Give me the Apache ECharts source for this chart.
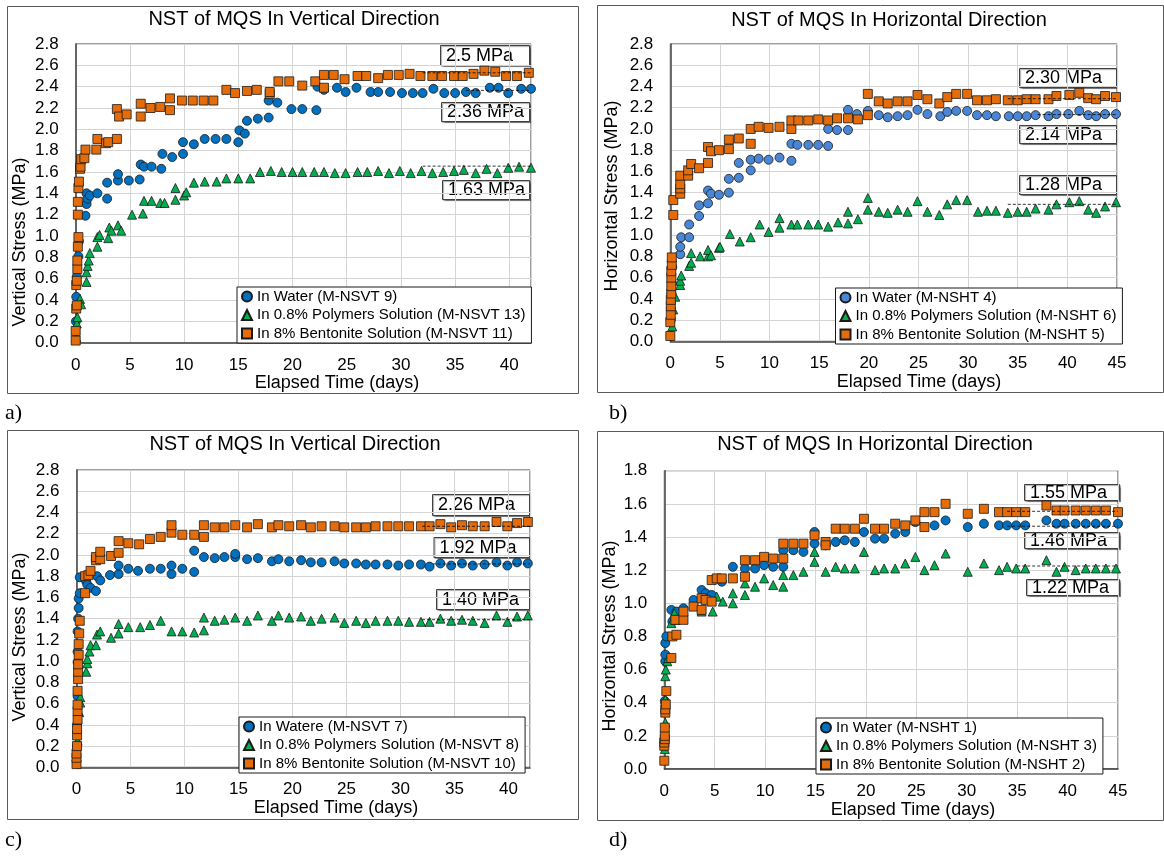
<!DOCTYPE html>
<html>
<head>
<meta charset="utf-8">
<script src="https://cdn.jsdelivr.net/npm/echarts@6/dist/echarts.min.js"></script>
<style>
  html, body { margin: 0; padding: 0; background: #fff; }
  #chart { width: 1164px; height: 857px; }
</style>
</head>
<body>
<div id="chart"></div>
<script>
// ---- data: [elapsed days, stress MPa] ----
const aWater = [[0.02,0.2],[0.05,0.43],[0.1,0.62],[0.25,0.81],[0.3,0.95],[0.9,1.19],[1.0,1.3],[1.0,1.4],[1.1,1.35],[1.3,1.38],[2.0,1.4],[2.9,1.5],[2.9,1.35],[3.9,1.52],[3.9,1.58],[4.9,1.52],[5.9,1.53],[6.0,1.67],[6.3,1.65],[7.0,1.65],[7.9,1.63],[8.0,1.77],[8.9,1.74],[9.9,1.77],[9.9,1.88],[10.9,1.86],[11.9,1.91],[12.9,1.91],[13.9,1.91],[15.0,1.88],[15.1,1.99],[15.6,1.96],[15.8,2.08],[16.8,2.10],[17.8,2.11],[17.8,2.27],[18.6,2.25],[19.9,2.19],[20.9,2.19],[22.2,2.18],[22.3,2.40],[22.9,2.37],[24.1,2.39],[24.9,2.35],[25.9,2.39],[27.2,2.35],[27.9,2.35],[29.0,2.35],[30.1,2.34],[31.1,2.34],[32.0,2.34],[33.0,2.38],[34.0,2.34],[35.0,2.34],[36.0,2.35],[36.9,2.34],[38.2,2.39],[39.0,2.39],[39.9,2.34],[41.1,2.38],[42.0,2.38]];
const aPoly = [[0.05,0.05],[0.1,0.18],[0.15,0.24],[0.3,0.38],[0.4,0.41],[0.5,0.36],[1.0,0.57],[1.0,0.66],[1.1,0.72],[1.2,0.77],[1.3,0.84],[2.0,0.90],[2.0,0.99],[2.2,1.01],[3.0,0.98],[3.1,1.08],[3.3,1.05],[3.9,1.10],[4.2,1.05],[5.2,1.20],[6.2,1.21],[6.3,1.33],[7.0,1.33],[7.8,1.31],[8.2,1.31],[9.2,1.34],[9.2,1.45],[10.0,1.38],[10.2,1.41],[10.9,1.50],[11.9,1.51],[13.0,1.51],[13.9,1.54],[15.0,1.54],[16.1,1.54],[17.0,1.60],[18.0,1.61],[19.0,1.60],[20.0,1.60],[20.9,1.60],[22.0,1.60],[22.9,1.60],[23.9,1.59],[24.9,1.59],[26.0,1.60],[26.9,1.60],[27.9,1.61],[28.9,1.59],[29.9,1.61],[30.9,1.59],[31.9,1.61],[32.9,1.59],[33.9,1.60],[34.9,1.61],[35.8,1.62],[36.9,1.59],[37.9,1.63],[38.9,1.59],[39.9,1.64],[40.9,1.65],[42.0,1.64]];
const aBent = [[0,0.02],[0,0.11],[0.05,0.32],[0.1,0.35],[0.05,0.54],[0.1,0.58],[0.15,0.69],[0.15,0.77],[0.2,0.9],[0.25,0.99],[0.2,1.2],[0.2,1.32],[0.25,1.45],[0.3,1.51],[0.4,1.63],[0.45,1.65],[0.5,1.72],[0.8,1.73],[0.9,1.81],[1.9,1.81],[2.0,1.91],[2.8,1.87],[3.0,1.88],[3.8,1.91],[3.8,2.19],[4.0,2.12],[4.7,2.14],[6.0,2.12],[6.0,2.24],[6.9,2.20],[7.8,2.21],[8.7,2.18],[8.7,2.29],[9.8,2.27],[10.8,2.27],[11.8,2.27],[12.7,2.27],[13.9,2.37],[14.7,2.34],[15.8,2.36],[16.7,2.37],[17.9,2.33],[17.9,2.35],[18.7,2.45],[19.7,2.45],[20.9,2.41],[22.1,2.45],[22.9,2.51],[22.9,2.39],[23.8,2.51],[24.8,2.47],[26.0,2.50],[26.8,2.50],[27.9,2.48],[28.8,2.51],[29.8,2.51],[30.8,2.52],[31.8,2.50],[32.9,2.50],[33.8,2.50],[34.9,2.50],[35.7,2.50],[36.7,2.52],[37.7,2.55],[38.7,2.54],[39.7,2.50],[40.7,2.50],[41.8,2.53]];

const bWater = [[0.05,0.2],[0.05,0.31],[0.1,0.38],[0.1,0.45],[0.15,0.55],[0.2,0.7],[1.0,0.82],[1.0,0.89],[1.1,0.98],[1.9,0.98],[1.9,1.10],[2.9,1.18],[2.9,1.28],[3.8,1.30],[3.8,1.42],[4.1,1.39],[4.9,1.38],[5.9,1.40],[5.9,1.53],[6.9,1.54],[6.9,1.68],[8.1,1.61],[8.1,1.71],[8.9,1.72],[9.9,1.71],[11.0,1.73],[12.2,1.70],[12.2,1.86],[12.8,1.85],[13.9,1.85],[14.9,1.85],[15.9,1.84],[15.9,2.0],[16.8,1.99],[17.9,1.99],[17.9,2.18],[18.8,2.14],[19.9,2.17],[21.0,2.13],[21.9,2.11],[22.9,2.12],[23.9,2.13],[24.9,2.18],[25.9,2.14],[27.2,2.12],[27.9,2.16],[28.8,2.17],[29.9,2.17],[30.9,2.13],[31.9,2.13],[32.8,2.12],[34.1,2.12],[35.0,2.12],[35.9,2.12],[36.8,2.13],[38.1,2.12],[38.9,2.14],[40.1,2.14],[41.2,2.17],[42.1,2.13],[42.9,2.12],[43.8,2.14],[44.9,2.14]];
const bPoly = [[0.2,0.14],[0.3,0.3],[0.5,0.42],[1.0,0.53],[1.0,0.57],[1.1,0.62],[1.9,0.71],[2.1,0.74],[2.1,0.83],[3.0,0.80],[3.8,0.80],[3.8,0.86],[4.1,0.81],[4.9,0.88],[5.0,0.89],[6.0,1.01],[7.0,0.94],[8.1,0.98],[9.0,1.10],[9.9,1.03],[11.0,1.07],[11.0,1.16],[12.2,1.10],[12.8,1.10],[13.9,1.10],[14.9,1.10],[15.9,1.08],[16.9,1.12],[17.9,1.11],[17.9,1.22],[18.9,1.15],[19.9,1.24],[19.9,1.35],[21.0,1.22],[21.9,1.21],[22.9,1.24],[23.9,1.22],[24.9,1.32],[25.9,1.22],[27.1,1.19],[27.9,1.29],[28.8,1.33],[29.9,1.33],[31.0,1.22],[31.9,1.23],[32.8,1.23],[34.0,1.21],[35.0,1.22],[35.9,1.22],[36.8,1.25],[38.1,1.24],[38.9,1.29],[40.2,1.31],[41.2,1.32],[42.1,1.24],[42.9,1.21],[43.8,1.27],[44.9,1.31]];
const bBent = [[0,0.05],[0,0.18],[0.05,0.25],[0.05,0.33],[0.05,0.39],[0.1,0.45],[0.1,0.52],[0.1,0.6],[0.1,0.66],[0.15,0.72],[0.15,0.79],[0.3,1.19],[0.3,1.33],[1.0,1.39],[1.0,1.44],[1.0,1.48],[1.0,1.56],[1.8,1.56],[1.8,1.61],[2.1,1.67],[2.9,1.63],[3.8,1.68],[3.8,1.83],[4.1,1.79],[4.9,1.80],[5.9,1.81],[5.9,1.90],[6.9,1.91],[8.1,1.86],[8.1,2.0],[8.9,2.02],[9.9,2.01],[11.0,2.02],[12.2,2.0],[12.2,2.08],[12.9,2.08],[13.9,2.08],[14.9,2.09],[15.9,2.08],[16.8,2.10],[17.9,2.10],[18.9,2.09],[19.9,2.13],[19.9,2.33],[21.0,2.26],[21.9,2.24],[22.9,2.26],[23.9,2.26],[24.9,2.32],[25.9,2.28],[27.1,2.24],[27.9,2.30],[28.8,2.33],[29.9,2.33],[30.9,2.27],[31.9,2.27],[32.8,2.28],[34.0,2.27],[35.0,2.27],[35.9,2.28],[36.8,2.28],[38.1,2.28],[38.9,2.31],[40.2,2.32],[41.2,2.34],[42.1,2.29],[42.9,2.28],[43.8,2.31],[44.9,2.30]];

const cWater = [[0.05,0.2],[0.05,0.4],[0.1,0.67],[0.1,0.99],[0.1,1.09],[0.1,1.28],[0.15,1.40],[0.2,1.50],[0.2,1.59],[0.3,1.64],[0.3,1.79],[0.9,1.75],[1.0,1.72],[1.3,1.69],[1.8,1.66],[1.9,1.80],[2.2,1.76],[3.1,1.81],[3.9,1.82],[3.9,1.90],[4.8,1.87],[5.7,1.85],[6.8,1.87],[7.8,1.87],[8.8,1.82],[8.8,1.90],[9.8,1.87],[10.9,1.84],[10.9,2.04],[11.8,1.98],[12.8,1.97],[13.7,1.98],[14.7,1.98],[14.7,2.01],[15.8,1.96],[16.8,1.97],[18.1,1.94],[18.7,1.96],[19.7,1.94],[20.8,1.95],[21.7,1.93],[22.7,1.93],[23.9,1.94],[24.8,1.92],[25.9,1.92],[26.8,1.91],[27.7,1.91],[28.8,1.91],[29.8,1.90],[30.8,1.91],[31.9,1.91],[32.7,1.89],[33.7,1.92],[34.7,1.90],[35.7,1.92],[36.7,1.90],[37.8,1.91],[38.9,1.93],[39.9,1.90],[40.8,1.93],[41.8,1.92]];
const cPoly = [[0.1,0.25],[0.25,0.52],[0.35,0.61],[0.35,0.66],[0.9,0.90],[1.0,0.98],[1.0,1.02],[1.2,1.09],[1.3,1.15],[1.8,1.15],[1.9,1.25],[2.2,1.28],[3.2,1.22],[3.9,1.26],[3.9,1.35],[4.8,1.32],[5.9,1.32],[6.8,1.34],[7.8,1.38],[8.8,1.28],[9.8,1.28],[10.9,1.27],[11.8,1.29],[11.8,1.41],[12.8,1.38],[13.7,1.39],[14.7,1.41],[15.8,1.38],[16.8,1.43],[18.1,1.38],[18.7,1.43],[19.7,1.41],[20.8,1.42],[21.7,1.38],[22.7,1.40],[23.9,1.41],[24.8,1.36],[25.9,1.38],[26.8,1.36],[27.7,1.38],[28.8,1.38],[29.8,1.38],[30.8,1.37],[31.9,1.37],[32.7,1.37],[33.7,1.40],[34.7,1.38],[35.7,1.39],[36.7,1.38],[37.8,1.36],[38.9,1.43],[39.9,1.37],[40.8,1.42],[41.8,1.43]];
const cBent = [[0,0.03],[0,0.09],[0,0.13],[0.05,0.2],[0.05,0.3],[0.05,0.36],[0.1,0.45],[0.1,0.53],[0.1,0.59],[0.1,0.72],[0.15,0.83],[0.15,0.90],[0.15,0.97],[0.2,1.06],[0.2,1.16],[0.25,1.26],[0.3,1.38],[0.8,1.64],[0.8,1.80],[1.1,1.81],[1.3,1.85],[1.8,1.95],[1.8,1.98],[2.2,1.96],[2.2,2.03],[3.2,1.99],[3.9,2.02],[3.9,2.13],[4.8,2.11],[5.8,2.10],[6.8,2.15],[7.8,2.17],[8.8,2.21],[8.8,2.28],[9.8,2.19],[10.9,2.19],[11.8,2.17],[11.8,2.28],[12.8,2.26],[13.7,2.26],[14.7,2.28],[15.8,2.26],[16.8,2.29],[18.1,2.26],[18.7,2.28],[19.7,2.27],[20.8,2.28],[21.7,2.26],[22.7,2.27],[23.9,2.27],[24.8,2.26],[25.9,2.26],[26.8,2.26],[27.7,2.27],[28.8,2.27],[29.8,2.27],[30.8,2.27],[31.9,2.27],[32.7,2.27],[33.7,2.29],[34.7,2.26],[35.7,2.28],[36.7,2.27],[37.8,2.27],[38.9,2.31],[39.9,2.27],[40.8,2.30],[41.8,2.31]];

const dWater = [[0.05,0.41],[0.1,0.65],[0.1,0.69],[0.1,0.76],[0.2,0.80],[0.7,0.96],[0.8,0.89],[1.2,0.95],[1.9,0.97],[2.9,1.02],[3.7,1.08],[4.1,1.06],[4.7,1.05],[5.7,1.13],[6.8,1.22],[8.0,1.21],[9.0,1.21],[9.9,1.23],[10.8,1.22],[11.8,1.22],[11.8,1.32],[12.8,1.32],[13.8,1.31],[14.9,1.36],[14.9,1.43],[16.0,1.35],[17.0,1.37],[17.9,1.38],[18.9,1.37],[19.8,1.43],[20.9,1.39],[21.8,1.39],[22.9,1.42],[23.9,1.43],[24.9,1.49],[26.8,1.47],[27.9,1.50],[30.1,1.46],[31.7,1.48],[33.2,1.47],[34.0,1.47],[34.9,1.47],[35.8,1.47],[37.9,1.50],[38.9,1.48],[39.7,1.48],[40.8,1.48],[41.8,1.48],[42.8,1.48],[43.8,1.48],[45.0,1.48]];
const dPoly = [[0.05,0.12],[0.1,0.28],[0.1,0.42],[0.1,0.56],[0.15,0.60],[0.3,0.65],[0.4,0.67],[0.7,0.88],[1.0,0.94],[1.1,0.90],[3.7,0.95],[4.8,0.95],[5.2,1.04],[5.8,1.01],[6.8,1.00],[6.8,1.06],[8.0,1.05],[8.0,1.12],[9.0,1.10],[9.9,1.15],[10.8,1.11],[11.8,1.10],[11.8,1.17],[12.8,1.17],[13.8,1.19],[14.9,1.25],[14.9,1.31],[16.0,1.19],[17.0,1.22],[17.9,1.21],[18.9,1.21],[19.8,1.31],[20.9,1.20],[21.8,1.21],[22.9,1.21],[23.9,1.24],[24.9,1.28],[25.8,1.20],[26.8,1.23],[27.9,1.30],[30.1,1.19],[31.7,1.24],[33.2,1.20],[34.0,1.22],[34.9,1.21],[35.8,1.21],[37.9,1.26],[38.9,1.19],[39.7,1.22],[40.8,1.20],[41.8,1.21],[42.8,1.21],[43.8,1.21],[44.8,1.21]];
const dBent = [[0,0.05],[0,0.14],[0,0.16],[0.05,0.18],[0.05,0.2],[0.05,0.25],[0.1,0.34],[0.1,0.36],[0.15,0.39],[0.2,0.47],[0.7,0.67],[0.8,0.80],[1.2,0.81],[1.1,0.90],[1.9,0.90],[1.9,0.95],[2.9,0.98],[3.7,0.96],[3.7,1.03],[4.1,1.02],[4.7,1.01],[4.7,1.14],[5.2,1.15],[5.7,1.15],[6.8,1.15],[8.0,1.16],[8.0,1.26],[9.0,1.26],[9.9,1.28],[10.8,1.27],[11.8,1.27],[11.8,1.36],[12.8,1.36],[13.8,1.36],[14.9,1.41],[16.0,1.37],[16.0,1.35],[17.0,1.45],[17.9,1.45],[18.9,1.45],[19.8,1.51],[20.9,1.45],[21.8,1.45],[22.9,1.48],[23.9,1.47],[24.9,1.50],[25.8,1.55],[25.8,1.46],[26.8,1.55],[27.9,1.60],[30.1,1.54],[31.7,1.57],[33.2,1.55],[34.0,1.55],[34.9,1.55],[35.8,1.55],[37.9,1.59],[38.9,1.56],[39.7,1.56],[40.8,1.56],[41.8,1.56],[42.8,1.56],[43.8,1.56],[45.0,1.55]];

// dashed average lines at the end of each test (bentonite, water, polymer)
const aAvg = [[[32,2.53],[42,2.53]], [[36,2.365],[42,2.365]], [[32,1.655],[42,1.655]]];
const bAvg = [[[34,2.285],[45,2.285]], [[37,2.135],[45,2.135]], [[34,1.29],[45,1.29]]];
const cAvg = [[[32,2.27],[42,2.27]], [[33,1.915],[42,1.915]], [[32,1.39],[42,1.39]]];
const dAvg = [[[34,1.555],[45,1.555]], [[34,1.465],[45,1.465]], [[35,1.225],[45,1.225]]];

// final stress labels
const aNotes = ['2.5 MPa', '2.36 MPa', '1.63 MPa'];
const bNotes = ['2.30 MPa', '2.14 MPa', '1.28 MPa'];
const cNotes = ['2.26 MPa', '1.92 MPa', '1.40 MPa'];
const dNotes = ['1.55 MPa', '1.46 MPa', '1.22 MPa'];

const aNames = ['In Water (M-NSVT 9)', 'In 0.8% Polymers Solution (M-NSVT 13)', 'In 8% Bentonite Solution (M-NSVT 11)'];
const bNames = ['In Water (M-NSHT 4)', 'In 0.8% Polymers Solution (M-NSHT 6)', 'In 8% Bentonite Solution (M-NSHT 5)'];
const cNames = ['In Watere (M-NSVT 7)', 'In 0.8% Polymers Solution (M-NSVT 8)', 'In 8% Bentonite Solution (M-NSVT 10)'];
const dNames = ['In Water (M-NSHT 1)', 'In 0.8% Polymers Solution (M-NSHT 3)', 'In 8% Bentonite Solution (M-NSHT 2)'];

const titleV = 'NST of MQS In Vertical Direction';
const titleH = 'NST of MQS In Horizontal Direction';
const xName = 'Elapsed Time (days)';
const yNameV = 'Vertical Stress (MPa)';
const yNameH = 'Horizontal Stress (MPa)';

const FONT = '"Liberation Sans", Arial, sans-serif';
const SYMBOLS = ['circle', 'triangle', 'rect'];
const GREEN = '#00B050', ORANGE = '#E46C0A';

// layout of each panel
const panels = [
  { sets: [aWater, aPoly, aBent], names: aNames, avg: aAvg, notes: aNotes, blue: '#0070C0',
    grid: [75.7, 44, 455.3, 298.7], xMax: 42, yMax: 2.8,
    frame: [7, 6, 571, 387], title: [294, 19, titleV], xTitle: [337, 383], yTitle: [20, 242, yNameV],
    tag: [5, 413, 'a)'], legend: [237, 287],
    boxes: [[440, 45, 89, 20], [441, 102, 88, 19], [442, 180, 87, 19]] },
  { sets: [bWater, bPoly, bBent], names: bNames, avg: bAvg, notes: bNotes, blue: '#4A86D6',
    grid: [670.3, 44, 446.7, 297.3], xMax: 45, yMax: 2.8,
    frame: [597, 5, 566, 387], title: [889, 20, titleH], xTitle: [919, 382], yTitle: [612, 196, yNameH],
    tag: [609, 413, 'b)'], legend: [835.5, 288],
    boxes: [[1019, 68, 97, 19], [1019, 125, 97, 18], [1019, 175, 97, 19]] },
  { sets: [cWater, cPoly, cBent], names: cNames, avg: cAvg, notes: cNotes, blue: '#0070C0',
    grid: [76.5, 470, 453.5, 297.3], xMax: 42, yMax: 2.8,
    frame: [7, 430, 571, 389], title: [295, 444, titleV], xTitle: [336, 808], yTitle: [20, 637, yNameV],
    tag: [5, 840, 'c)'], legend: [239, 717],
    boxes: [[432, 494, 97, 21], [433.5, 537, 95.5, 20], [436, 589, 93, 20]] },
  { sets: [dWater, dPoly, dBent], names: dNames, avg: dAvg, notes: dNotes, blue: '#0070C0',
    grid: [664.3, 470.7, 453.7, 298.3], xMax: 45, yMax: 1.8,
    frame: [597, 431, 566, 389], title: [875, 444, titleH], xTitle: [913, 810], yTitle: [610, 636, yNameH],
    tag: [609, 840, 'd)'], legend: [816, 718],
    boxes: [[1024, 484, 95, 16], [1024, 532, 95, 16], [1026, 579, 93, 16]] }
];

const option = { animation: false, grid: [], xAxis: [], yAxis: [], series: [], legend: [], graphic: [] };

panels.forEach((p, i) => {
  const colors = [p.blue, GREEN, ORANGE];
  option.grid.push({
    left: p.grid[0], top: p.grid[1], width: p.grid[2], height: p.grid[3],
    show: true, borderColor: '#404040', borderWidth: 1, backgroundColor: '#fff'
  });
  option.xAxis.push({
    gridIndex: i, type: 'value', min: 0, max: p.xMax, interval: 5,
    axisLine: { show: true, onZero: false, lineStyle: { color: '#404040', width: 1.5 } },
    axisTick: { show: false },
    axisLabel: { color: '#000', fontFamily: FONT, fontSize: 17, margin: 14, showMaxLabel: p.xMax % 5 === 0 },
    splitLine: { show: true, lineStyle: { color: '#d4d4d4', width: 1 } }
  });
  option.yAxis.push({
    gridIndex: i, type: 'value', min: 0, max: p.yMax, interval: 0.2,
    axisLine: { show: true, onZero: false, lineStyle: { color: '#404040', width: 1.5 } },
    axisTick: { show: false },
    axisLabel: { color: '#000', fontFamily: FONT, fontSize: 17, margin: 17, formatter: v => v.toFixed(1) },
    splitLine: { show: true, lineStyle: { color: '#d4d4d4', width: 1 } }
  });
  p.sets.forEach((data, j) => {
    option.series.push({
      type: 'scatter', name: p.names[j], xAxisIndex: i, yAxisIndex: i,
      data: data, symbol: SYMBOLS[j], symbolSize: 9,
      itemStyle: { color: colors[j], borderColor: '#1a1a1a', borderWidth: 0.8, opacity: 1 },
      z: 3 + j
    });
  });
  p.avg.forEach(seg => {
    option.series.push({
      type: 'line', xAxisIndex: i, yAxisIndex: i, data: seg, symbol: 'none', silent: true,
      lineStyle: { color: '#000', width: 0.8, type: [3, 2] }, z: 8
    });
  });
  option.legend.push({
    orient: 'vertical', left: p.legend[0], top: p.legend[1], data: p.names,
    itemWidth: 10, itemHeight: 10, itemGap: 3.5, padding: [2, 6, 2, 4],
    borderColor: '#1a1a1a', borderWidth: 1, backgroundColor: '#fff', selectedMode: false,
    textStyle: { color: '#000', fontFamily: FONT, fontSize: 15 }
  });

  // panel frame, titles, tag
  option.graphic.push({
    type: 'rect', shape: { x: p.frame[0] + 0.5, y: p.frame[1] + 0.5, width: p.frame[2], height: p.frame[3] },
    style: { fill: 'none', stroke: '#595959', lineWidth: 1 }, z: 0, silent: true
  });
  option.graphic.push({
    type: 'text', x: p.title[0], y: p.title[1], z: 10,
    style: { text: p.title[2], fill: '#000', font: '20px ' + FONT, align: 'center', verticalAlign: 'middle' }
  });
  option.graphic.push({
    type: 'text', x: p.xTitle[0], y: p.xTitle[1], z: 10,
    style: { text: xName, fill: '#000', font: '18px ' + FONT, align: 'center', verticalAlign: 'middle' }
  });
  option.graphic.push({
    type: 'text', x: p.yTitle[0], y: p.yTitle[1], rotation: Math.PI / 2, z: 10,
    style: { text: p.yTitle[2], fill: '#000', font: '18px ' + FONT, align: 'center', verticalAlign: 'middle' }
  });
  option.graphic.push({
    type: 'text', x: p.tag[0], y: p.tag[1], z: 10,
    style: { text: p.tag[2], fill: '#000', font: '22px "Liberation Serif", "Times New Roman", serif', align: 'left', verticalAlign: 'middle' }
  });
  p.boxes.forEach((b, k) => {
    option.graphic.push({
      type: 'group', z: 50,
      children: [
        { type: 'rect', shape: { x: b[0] + 0.5, y: b[1] + 0.5, width: b[2], height: b[3] },
          style: { fill: '#fff', stroke: '#404040', lineWidth: 1, shadowBlur: 1, shadowOffsetX: 1, shadowOffsetY: 1, shadowColor: 'rgba(0,0,0,0.35)' } },
        { type: 'text', x: b[0] + 6, y: b[1] + b[3] / 2 + 1,
          style: { text: p.notes[k], fill: '#000', font: '18px ' + FONT, align: 'left', verticalAlign: 'middle' } }
      ]
    });
  });
});

const chart = echarts.init(document.getElementById('chart'));
chart.setOption(option);
</script>
</body>
</html>
